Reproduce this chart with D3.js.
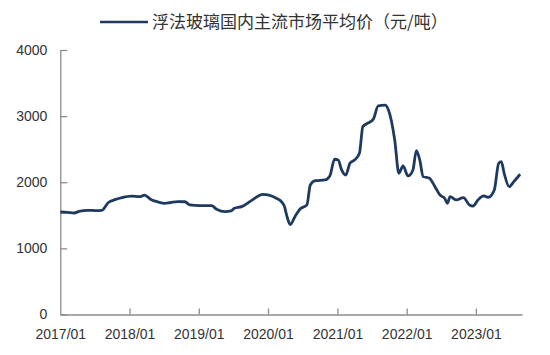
<!DOCTYPE html>
<html><head><meta charset="utf-8">
<script src="https://cdn.jsdelivr.net/npm/d3@7"></script>
<style>body{margin:0;background:#fff}svg{display:block}</style>
</head><body>
<svg id="c" width="550" height="355"></svg>
<script>
const seriesName = "浮法玻璃国内主流市场平均价（元/吨）";
const dates = ["2017-01-01","2017-02-06","2017-03-16","2017-04-10","2017-05-25","2017-07-08","2017-08-08","2017-09-10","2017-10-20","2017-11-22",
"2018-01-12","2018-02-24","2018-03-20","2018-04-26","2018-06-02","2018-07-05","2018-08-01","2018-09-12","2018-10-20","2018-11-15",
"2019-01-08","2019-03-10","2019-04-05","2019-05-20","2019-06-20","2019-07-08","2019-08-15","2019-10-05","2019-12-05",
"2020-01-01","2020-02-14","2020-03-14","2020-03-28","2020-04-08","2020-04-27","2020-05-22","2020-06-17","2020-07-24","2020-08-11","2020-09-06","2020-10-27","2020-11-22","2020-12-17",
"2021-01-05","2021-01-23","2021-02-14","2021-03-08","2021-04-01","2021-04-27","2021-05-15","2021-06-10","2021-07-09","2021-08-04","2021-09-09","2021-09-27","2021-10-30","2021-11-21","2021-12-13",
"2022-01-08","2022-02-03","2022-02-21","2022-03-11","2022-03-29","2022-05-01","2022-05-30","2022-06-25","2022-07-20","2022-08-04","2022-08-18","2022-09-20","2022-10-27","2022-11-28","2022-12-17",
"2023-01-12","2023-02-10","2023-03-07","2023-04-08","2023-05-01","2023-05-15","2023-05-30","2023-06-25","2023-07-20","2023-08-22"];
const prices = [1550,1545,1535,1560,1575,1572,1576,1690,1740,1767,
1790,1782,1805,1735,1700,1682,1690,1707,1705,1657,
1646,1645,1592,1555,1566,1607,1631,1722,1818,
1808,1758,1700,1631,1505,1360,1480,1592,1657,1959,2024,2035,2095,2348,
2337,2186,2110,2287,2337,2439,2841,2893,2953,3154,3165,3094,2640,2136,2247,
2095,2186,2478,2337,2085,2060,1933,1808,1758,1682,1782,1732,1767,1657,1641,
1732,1793,1773,1884,2287,2312,2136,1933,2009,2121];
const yTicks = [0,1000,2000,3000,4000];
const xTickYears = [2017,2018,2019,2020,2021,2022,2023];

const parse = d3.timeParse("%Y-%m-%d");
const data = dates.map((d,i)=>({date:parse(d), value:prices[i]}));

const svg = d3.select("#c");
const L = 60.3, R = 522, T = 50, B = 314.5;
const x = d3.scaleTime().domain([new Date(2017,0,1), new Date(2023,8,1)]).range([L,R]);
const y = d3.scaleLinear().domain([0,4000]).range([B,T]);
const axisColor = "#8c8c8c", textColor = "#333";

const gy = svg.append("g").attr("transform",`translate(${L},0)`)
  .call(d3.axisLeft(y).tickValues(yTicks).tickFormat(d3.format("d")).tickSize(-7).tickPadding(13).tickSizeOuter(0));
const gx = svg.append("g").attr("transform",`translate(0,${B})`)
  .call(d3.axisBottom(x).tickValues(xTickYears.map(v=>new Date(v,0,1))).tickFormat(d3.timeFormat("%Y/%m")).tickSize(-6).tickPadding(15).tickSizeOuter(0));
[gx,gy].forEach(g=>{
  g.selectAll("path,line").attr("stroke",axisColor).attr("stroke-width",1.3);
  g.selectAll("text").attr("fill",textColor).style("font-family","'Liberation Sans',Arial,sans-serif").style("font-size","14px");
});
gx.selectAll(".tick").filter(d=>d.getFullYear()===2017).select("line").remove();

svg.append("path").datum(data)
  .attr("fill","none").attr("stroke","#1f3a60").attr("stroke-width",2.8).attr("stroke-linejoin","round")
  .attr("d", d3.line().x(d=>x(d.date)).y(d=>y(d.value)).curve(d3.curveMonotoneX));

const lg = svg.append("g");
lg.append("line").attr("x1",100).attr("x2",148).attr("y1",22).attr("y2",22).attr("stroke","#1f3a60").attr("stroke-width",2.6);
lg.append("text").attr("x",152).attr("y",22).attr("dy","0.35em").attr("fill",textColor)
  .style("font-family","'Noto Sans CJK SC',sans-serif").style("font-size","17px").text(seriesName);
</script>
</body></html>
